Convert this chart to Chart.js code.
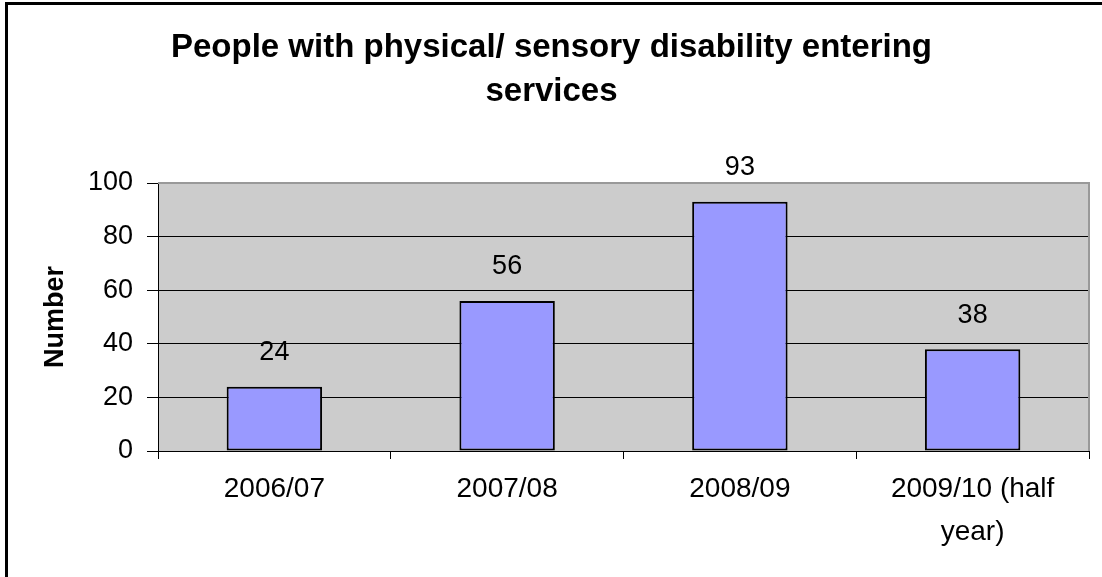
<!DOCTYPE html>
<html>
<head>
<meta charset="utf-8">
<script src="https://cdn.jsdelivr.net/npm/chart.js@4/dist/chart.umd.min.js"></script>
<style>
  html, body { margin: 0; padding: 0; background: #ffffff; }
  #wrap { width: 1102px; height: 577px; position: relative; }
</style>
</head>
<body>
<div id="wrap"><canvas id="c" width="1102" height="577"></canvas></div>
<script>
// ---- Data ----
const categories = ['2006/07', '2007/08', '2008/09', ['2009/10 (half', 'year)']];
const peopleEntering = [24, 56, 93, 38];
const yTicks = [0, 20, 40, 60, 80, 100];
const chartTitle = ['People with physical/ sensory disability entering', 'services'];
const yAxisTitle = 'Number';

const FONT = "'Liberation Sans', Arial, sans-serif";

const framePlugin = {
  id: 'frame',
  beforeDraw(chart) {
    const { ctx, chartArea: a } = chart;
    ctx.save();
    ctx.fillStyle = '#ffffff';
    ctx.fillRect(0, 0, chart.width, chart.height);
    // outer border (left + top visible)
    ctx.fillStyle = '#000000';
    ctx.fillRect(5, 2, 3, chart.height - 2);
    ctx.fillRect(5, 2, chart.width - 5, 3);
    // plot background
    ctx.fillStyle = '#cccccc';
    ctx.fillRect(a.left, a.top, a.right - a.left, a.bottom - a.top);
    ctx.restore();
  },
  afterDraw(chart) {
    const { ctx, chartArea: a } = chart;
    ctx.save();
    ctx.strokeStyle = '#999999';
    ctx.lineWidth = 2;
    ctx.beginPath();
    ctx.moveTo(a.left, a.top);
    ctx.lineTo(a.right, a.top);
    ctx.lineTo(a.right, a.bottom);
    ctx.stroke();
    // data labels
    ctx.fillStyle = '#000000';
    ctx.font = '27px ' + FONT;
    ctx.textAlign = 'center';
    ctx.textBaseline = 'middle';
    const meta = chart.getDatasetMeta(0);
    meta.data.forEach((bar, i) => {
      ctx.fillText(String(chart.data.datasets[0].data[i]), bar.x, bar.y - 34);
    });
    ctx.restore();
  }
};

new Chart(document.getElementById('c'), {
  type: 'bar',
  data: {
    labels: categories,
    datasets: [{
      data: peopleEntering,
      backgroundColor: '#9999ff',
      borderColor: '#000000',
      borderWidth: 2,
      borderSkipped: false,
      barPercentage: 0.41,
      categoryPercentage: 1.0
    }]
  },
  options: {
    responsive: false,
    animation: false,
    devicePixelRatio: 1,
    layout: { padding: { left: 14, right: 13, top: 0, bottom: 0 } },
    plugins: {
      legend: { display: false },
      tooltip: { enabled: false },
      title: {
        display: true,
        text: chartTitle,
        color: '#000000',
        font: { family: FONT, size: 33, weight: 'bold', lineHeight: '44px' },
        padding: { top: 26, bottom: 69 }
      }
    },
    scales: {
      x: {
        grid: {
          display: true,
          drawOnChartArea: false,
          offset: true,
          tickLength: 8,
          color: '#000000',
          lineWidth: 1
        },
        border: { display: true, color: '#000000', width: 1 },
        ticks: {
          color: '#000000',
          font: { family: FONT, size: 28, lineHeight: '43px' },
          padding: 9,
          maxRotation: 0,
          autoSkip: false
        },
        afterFit(scale) { scale.height = 126; }
      },
      y: {
        min: 0,
        max: 100,
        afterBuildTicks(scale) { scale.ticks = yTicks.map(v => ({ value: v })); },
        grid: {
          display: true,
          drawOnChartArea: true,
          tickLength: 11,
          color: (c) => (c.tick && c.tick.value === 100) ? '#999999' : '#000000',
          tickColor: '#000000',
          lineWidth: 1
        },
        border: { display: true, color: '#000000', width: 1 },
        ticks: {
          color: '#000000',
          font: { family: FONT, size: 27 },
          padding: 14
        },
        title: {
          display: true,
          text: yAxisTitle,
          color: '#000000',
          font: { family: FONT, size: 27, weight: 'bold', lineHeight: 1.2 },
          padding: { top: 25, bottom: 0 }
        },
        afterFit(scale) { scale.width = 144; }
      }
    }
  },
  plugins: [framePlugin]
});
</script>
</body>
</html>
